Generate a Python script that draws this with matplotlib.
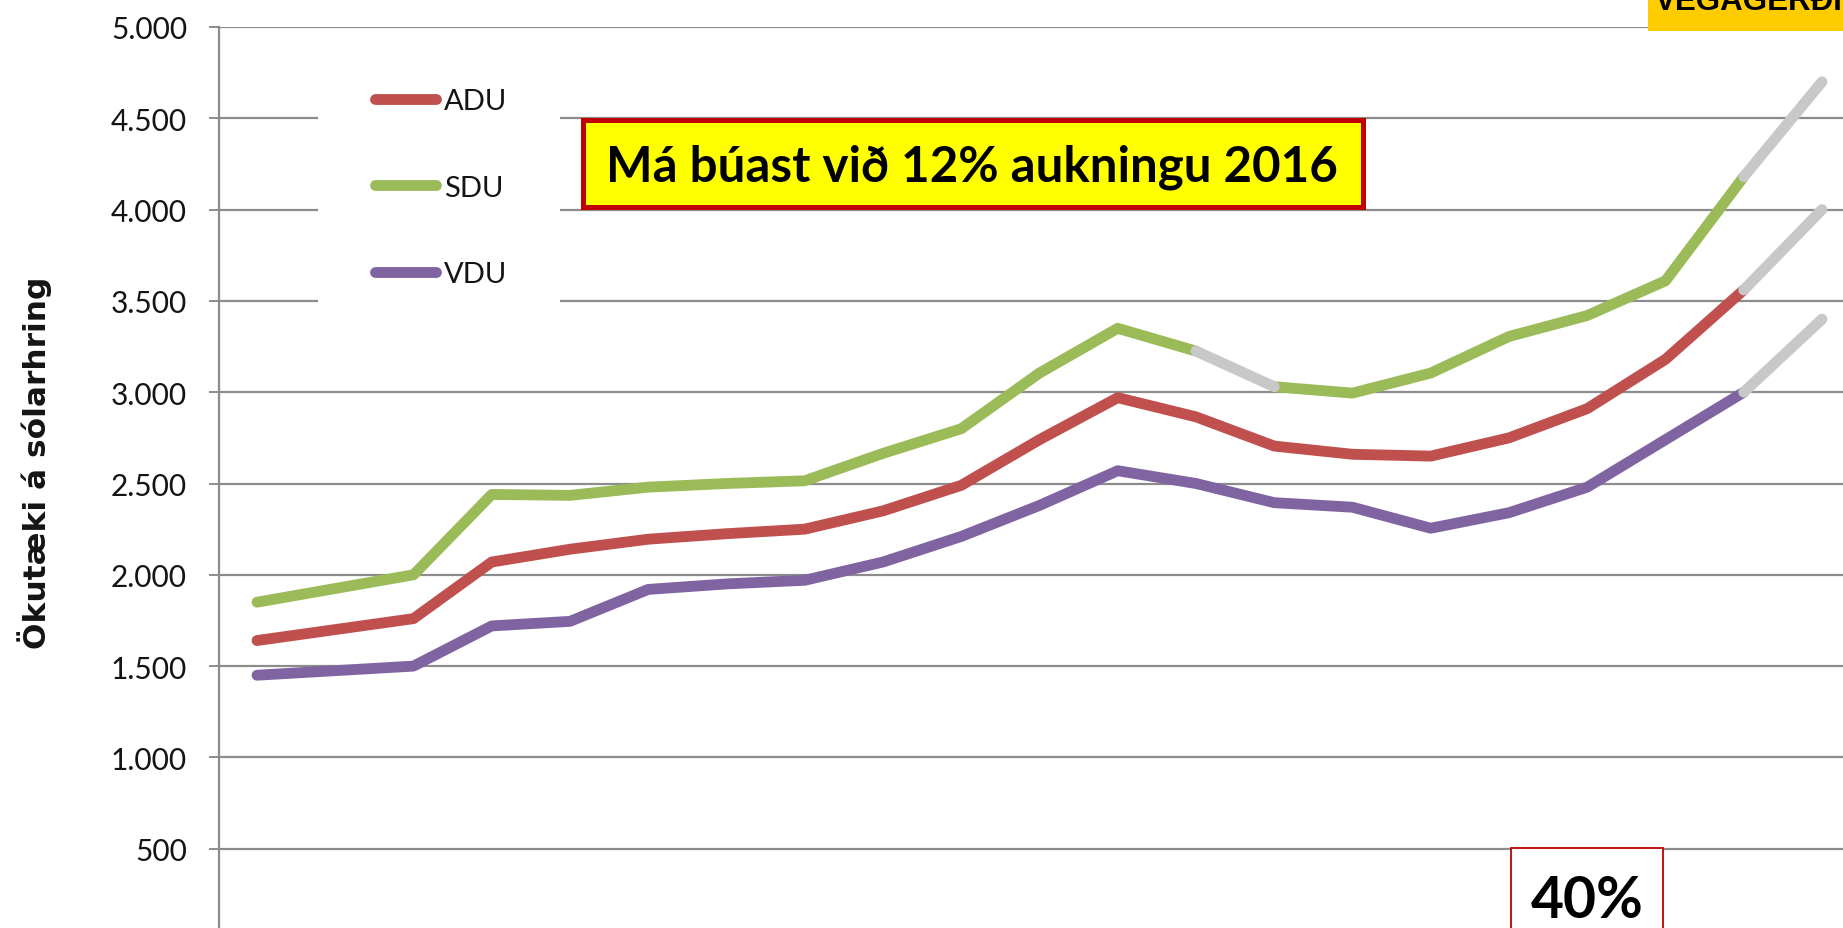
import matplotlib
matplotlib.use("Agg")
import matplotlib.pyplot as plt
from matplotlib.patches import Rectangle
from matplotlib.ticker import FuncFormatter

# data (1997 is missing in the source)
years = [1996, 1998, 1999, 2000, 2001, 2002, 2003, 2004, 2005, 2006,
         2007, 2008, 2009, 2010, 2011, 2012, 2013, 2014, 2015, 2016]
adu = [1640, 1760, 2070, 2140, 2195, 2225, 2250, 2350, 2490, 2740,
       2970, 2865, 2705, 2660, 2650, 2750, 2910, 3180, 3560, 4000]
sdu = [1850, 2000, 2440, 2435, 2480, 2500, 2515, 2665, 2800, 3105,
       3350, 3225, 3030, 2995, 3105, 3305, 3420, 3610, 4180, 4700]
vdu = [1450, 1500, 1720, 1745, 1920, 1950, 1970, 2070, 2210, 2380,
       2570, 2500, 2395, 2370, 2255, 2340, 2480, 2740, 3000, 3400]
series_names = ["ADU", "SDU", "VDU"]
y_ticks = [500, 1000, 1500, 2000, 2500, 3000, 3500, 4000, 4500, 5000]

colors = {"ADU": "#C0504D", "SDU": "#9BBB59", "VDU": "#8064A2"}
gray = "#C8C8C8"
grid_c = "#8C8C8C"
txt_c = "#141414"

W, H = 1843, 929
fig = plt.figure(figsize=(W / 100, H / 100), dpi=100)

def fx(px):
    return px / W

def fy(py):
    return 1 - py / H

# axes: y axis at x=219px, 5000 at y=28px, 0 below the picture at y=941px
ax = fig.add_axes([fx(219), fy(941), fx(W - 219), (941 - 28) / H])
ax.set_xlim(1996 - (257 - 219) / 78.25, 1996 + (W - 257) / 78.25)
ax.set_ylim(0, 5000)

lw = 7.8
kw = dict(lw=lw, solid_capstyle="round", solid_joinstyle="round", zorder=3)

# projection segment (2015 -> 2016) in gray, measured part in colour
h_adu, = ax.plot(years[:-1], adu[:-1], color=colors["ADU"], **kw)
ax.plot(years[-2:], adu[-2:], color=gray, **kw)

h_sdu, = ax.plot(years[:12], sdu[:12], color=colors["SDU"], **kw)
ax.plot(years[12:-1], sdu[12:-1], color=colors["SDU"], **kw)
ax.plot(years[11:13], sdu[11:13], color=gray, **kw)
ax.plot(years[-2:], sdu[-2:], color=gray, **kw)

h_vdu, = ax.plot(years[:-1], vdu[:-1], color=colors["VDU"], **kw)
ax.plot(years[-2:], vdu[-2:], color=gray, **kw)

# -- axes styling
ax.set_axisbelow(True)
ax.yaxis.grid(True, color=grid_c, lw=1.6)
ax.xaxis.grid(False)
for s in ["top", "right", "bottom"]:
    ax.spines[s].set_visible(False)
ax.spines["left"].set_color(grid_c)
ax.spines["left"].set_linewidth(1.6)
ax.set_xticks([])
ax.set_yticks(y_ticks)
ax.yaxis.set_major_formatter(FuncFormatter(lambda v, p: f"{int(v):,}".replace(",", ".")))
ax.tick_params(axis="y", length=7.2, width=1.4, color=grid_c, pad=15.8,
               labelsize=21.5, labelcolor=txt_c)
for t in ax.get_yticklabels():
    t.set_family(["Lato", "DejaVu Sans"])

# white area behind the legend (hides the gridlines there)
ax.add_patch(Rectangle((fx(318), fy(312)), fx(560 - 318), (312 - 55) / H,
                       transform=fig.transFigure, facecolor="white",
                       edgecolor="none", zorder=1))

leg = ax.legend([h_adu, h_sdu, h_vdu], series_names, loc="upper left",
                bbox_to_anchor=(fx(374.5), fy(89)), bbox_transform=fig.transFigure,
                frameon=False, borderpad=0, borderaxespad=0,
                handlelength=2.12, handletextpad=0.26, labelspacing=2.08,
                prop={"family": ["Lato", "DejaVu Sans"], "size": 21})
for t in leg.get_texts():
    t.set_color(txt_c)

# y label
fig.text(fx(35), fy(463), "Ökutæki á sólarhring", rotation=90, ha="center",
         va="center", fontsize=22.5, fontweight="bold", family="DejaVu Sans",
         color=txt_c)

# yellow note box
fig.patches.append(Rectangle((fx(583), fy(208)), fx(1363 - 583), (208 - 121) / H,
                             transform=fig.transFigure, facecolor="#FFFF00",
                             edgecolor="#C00000", lw=3.6, zorder=5))
fig.text(fx(972), fy(167), "Má búast við 12% aukningu 2016", ha="center",
         va="center", fontsize=35.5, fontweight="bold", family="Lato",
         color="black", zorder=6)

# 40% box at the bottom
fig.patches.append(Rectangle((fx(1511), fy(960)), fx(1663 - 1511), (960 - 849) / H,
                             transform=fig.transFigure, facecolor="white",
                             edgecolor="#C00000", lw=1.3, zorder=5))
fig.text(fx(1587), fy(918), "40%", ha="center", va="baseline", fontsize=41,
         fontweight="bold", family="Lato", color="black", zorder=6)

# logo strip, top right (cut off in the source)
fig.patches.append(Rectangle((fx(1648), fy(32)), fx(W - 1648 + 10), 40 / H,
                             transform=fig.transFigure, facecolor="#FFCC00",
                             edgecolor="none", zorder=5))
fig.text(fx(1655), fy(10), "VEGAGERÐIN", ha="left", va="baseline", fontsize=22.5,
         fontweight="bold", family="Liberation Sans", color="black", zorder=6)

fig.savefig("out.png", dpi=100)
